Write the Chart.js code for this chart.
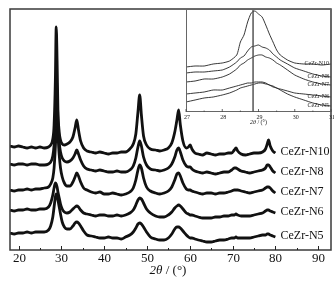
<!DOCTYPE html>
<html lang="en">
<head>
<meta charset="UTF-8">
<title>XRD CeZr-N</title>
<script src="https://cdn.jsdelivr.net/npm/chart.js"></script>
<style>
    body { margin: 0; background: #fff; }
    #wrap { position: relative; width: 334px; height: 282px; }
    #mainChart { position: absolute; left: 0; top: 0; }
    #insetChart { position: absolute; left: 178px; top: 9px; }
</style>
</head>
<body>
<div id="wrap">
    <canvas id="mainChart" width="334" height="282"></canvas>
    <canvas id="insetChart" width="156" height="120"></canvas>
</div>
<script>
// main pattern, 2theta in degrees, intensities stacked (arbitrary units)
const twoTheta = [18, 19, 20, 21, 22, 23, 24, 25, 26, 27, 27.5, 28, 28.3, 28.6, 28.8, 29.0, 29.2, 29.5, 29.8, 30.2,
    30.7, 31.3, 32, 32.7, 33.2, 33.6, 34.0, 34.5, 35.2, 36, 37, 38, 39, 40, 41, 42, 43, 44, 45, 46,
    46.8, 47.4, 47.9, 48.3, 48.7, 49.2, 49.9, 50.8, 52, 53, 54, 55, 55.8, 56.5, 57.0, 57.4, 57.8, 58.4, 59.2, 59.7,
    60.1, 60.5, 61.2, 62, 63, 64, 65, 66, 67, 68, 69, 69.8, 70.4, 70.8, 71.2, 72, 73, 74, 75, 76,
    77, 77.7, 78.1, 78.4, 78.8, 79.4, 80];

const n10 = [104, 103, 104, 103, 102, 103, 102, 103, 102, 103, 105, 111, 125, 170, 223, 190, 140, 118, 110, 106,
    105, 106, 108, 113, 122, 130, 120, 109, 102, 99, 98, 97, 98, 97, 96, 97, 97, 98, 98, 101,
    106, 116, 138, 155, 135, 114, 105, 101, 100, 99, 100, 102, 107, 118, 130, 140, 125, 109, 102, 103,
    105, 101, 97, 96, 95, 97, 96, 95, 96, 96, 97, 97, 100, 102, 99, 96, 95, 96, 97, 97,
    98, 101, 106, 110, 104, 99, 97];
const n8 = [86, 85, 86, 86, 85, 86, 86, 85, 85, 86, 88, 94, 105, 130, 150, 153, 130, 108, 98, 92,
    89, 88, 89, 92, 96, 100, 96, 90, 84, 81, 80, 79, 80, 79, 78, 78, 79, 78, 78, 80,
    84, 92, 103, 109, 104, 93, 85, 81, 80, 79, 80, 82, 86, 93, 100, 102, 98, 90, 84, 83,
    83, 81, 79, 78, 77, 78, 77, 76, 77, 78, 78, 80, 82, 82, 81, 79, 78, 77, 78, 79,
    80, 82, 85, 85, 83, 79, 77];
const n7 = [60, 59, 60, 60, 61, 60, 61, 61, 62, 63, 66, 72, 82, 103, 120, 127, 115, 95, 82, 73,
    67, 64, 64, 68, 73, 77, 74, 68, 62, 60, 58, 57, 58, 56, 56, 57, 56, 55, 56, 58,
    62, 70, 80, 85, 82, 72, 63, 59, 57, 56, 57, 59, 63, 70, 76, 77, 74, 67, 61, 60,
    60, 59, 58, 57, 56, 57, 57, 56, 57, 57, 58, 59, 60, 60, 60, 59, 58, 57, 58, 59,
    60, 62, 63, 63, 62, 59, 57];
const n6 = [40, 39, 40, 40, 41, 40, 40, 41, 41, 43, 47, 55, 62, 67, 66, 63, 58, 52, 46, 41,
    38, 37, 38, 41, 43, 44, 43, 40, 37, 36, 35, 34, 35, 35, 34, 34, 35, 34, 35, 37,
    40, 45, 50, 52, 51, 47, 41, 37, 34, 33, 33, 35, 38, 42, 44, 45, 44, 41, 37, 36,
    35, 35, 34, 33, 32, 32, 32, 33, 33, 34, 34, 35, 35, 36, 35, 34, 34, 34, 35, 36,
    37, 39, 40, 40, 39, 38, 37];
const n5 = [17, 16, 17, 17, 18, 17, 18, 18, 18, 20, 24, 33, 43, 53, 56, 55, 50, 43, 36, 28,
    23, 21, 21, 24, 27, 28, 27, 24, 19, 15, 14, 13, 12, 12, 13, 12, 12, 11, 13, 15,
    18, 22, 26, 27, 26, 23, 18, 13, 11, 10, 10, 12, 16, 21, 23, 23, 22, 19, 15, 13,
    12, 12, 11, 10, 9, 8, 8, 9, 10, 10, 11, 12, 12, 13, 12, 12, 12, 12, 13, 14,
    15, 15, 16, 16, 15, 14, 13];

const seriesNames = ['CeZr-N10', 'CeZr-N8', 'CeZr-N7', 'CeZr-N6', 'CeZr-N5'];
const xTicks = [20, 30, 40, 50, 60, 70, 80, 90];

// inset: zoom on the (111) reflection
const insetTheta = [27, 27.25, 27.5, 27.75, 28, 28.2, 28.4, 28.5, 28.6, 28.7, 28.8, 28.9, 29.0, 29.1, 29.2,
    29.3, 29.4, 29.5, 29.6, 29.8, 30, 30.25, 30.5, 30.75, 31];
const insetN10 = [45, 46, 46, 48, 49, 51, 57, 70, 77, 90, 99, 101, 98, 95, 87, 78, 70, 62, 57, 52, 49, 48, 48, 47, 48];
const insetN8 = [39, 40, 40, 41, 42, 45, 50, 54, 56, 61, 65, 66, 67, 65, 64, 62, 58, 55, 52, 48, 44, 41, 38, 36, 35];
const insetN7 = [30, 31, 33, 33, 35, 38, 43, 47, 49, 52, 54, 56, 57, 57, 55, 54, 52, 49, 47, 42, 37, 33, 30, 28, 27];
const insetN6 = [18, 19, 20, 22, 22, 24, 26, 27, 28, 29, 29, 30, 30, 30, 29, 27, 26, 24, 23, 21, 19, 18, 17, 16, 15];
const insetN5 = [10, 12, 14, 15, 17, 19, 22, 24, 25, 26, 27, 28, 29, 29, 28, 27, 25, 24, 22, 18, 15, 12, 9, 7, 6];
const insetTicks = [27, 28, 29, 30, 31];
const refLine = 28.85;

function toPoints(xs, ys) {
    return xs.map((x, i) => ({ x: x, y: ys[i] }));
}

function drawTitle(ctx, cx, cy, size) {
    ctx.save();
    ctx.textBaseline = 'middle';
    ctx.fillStyle = '#111';
    const a = '2\u03b8';
    const b = ' / (\u00b0)';
    ctx.font = 'italic ' + size + 'px "Liberation Serif"';
    const wa = ctx.measureText(a).width;
    ctx.font = size + 'px "Liberation Serif"';
    const wb = ctx.measureText(b).width;
    const x0 = cx - (wa + wb) / 2;
    ctx.textAlign = 'left';
    ctx.font = 'italic ' + size + 'px "Liberation Serif"';
    ctx.fillText(a, x0, cy);
    ctx.font = size + 'px "Liberation Serif"';
    ctx.fillText(b, x0 + wa, cy);
    ctx.restore();
}

const mainDecor = {
    id: 'mainDecor',
    afterDraw(chart) {
        const ctx = chart.ctx;
        const area = chart.chartArea;
        const xs = chart.scales.x;
        const ys = chart.scales.y;
        ctx.save();
        ctx.strokeStyle = '#3a3a3a';
        ctx.lineWidth = 1.5;
        ctx.strokeRect(area.left, area.top, area.right - area.left, area.bottom - area.top);

        ctx.lineWidth = 1;
        ctx.strokeStyle = '#222';
        ctx.fillStyle = '#111';
        ctx.font = '13px "Liberation Serif"';
        ctx.textAlign = 'center';
        ctx.textBaseline = 'middle';
        xTicks.forEach((t, i) => {
            const px = Math.round(xs.getPixelForValue(t)) + 0.5;
            ctx.beginPath();
            ctx.moveTo(px, area.bottom);
            ctx.lineTo(px, area.bottom - 4);
            ctx.stroke();
            ctx.fillText(String(t), px, area.bottom + 9);
            if (i < xTicks.length - 1) {
                const pm = Math.round(xs.getPixelForValue((t + xTicks[i + 1]) / 2)) + 0.5;
                ctx.beginPath();
                ctx.moveTo(pm, area.bottom);
                ctx.lineTo(pm, area.bottom - 2);
                ctx.stroke();
            }
        });
        drawTitle(ctx, 168, 271, 13);

        // series labels at the right end of each pattern
        ctx.font = '12px "Liberation Serif"';
        ctx.textAlign = 'left';
        chart.data.datasets.forEach(ds => {
            const last = ds.data[ds.data.length - 1];
            ctx.fillText(ds.label, xs.getPixelForValue(81.2), ys.getPixelForValue(last.y + 1));
        });
        ctx.restore();
    }
};

const insetDecor = {
    id: 'insetDecor',
    afterDraw(chart) {
        const ctx = chart.ctx;
        const area = chart.chartArea;
        const xs = chart.scales.x;
        const ys = chart.scales.y;
        ctx.save();
        ctx.strokeStyle = '#666';
        ctx.lineWidth = 1;
        ctx.strokeRect(area.left + 0.5, area.top - 0.5, area.right - area.left - 0.5, area.bottom - area.top);

        // reference position of the (111) peak
        const rx = xs.getPixelForValue(refLine);
        ctx.strokeStyle = '#555';
        ctx.lineWidth = 1.5;
        ctx.beginPath();
        ctx.moveTo(rx, area.top);
        ctx.lineTo(rx, area.bottom);
        ctx.stroke();

        ctx.lineWidth = 0.8;
        ctx.strokeStyle = '#444';
        ctx.fillStyle = '#222';
        ctx.font = '6px "Liberation Serif"';
        ctx.textAlign = 'center';
        ctx.textBaseline = 'middle';
        insetTicks.forEach((t, i) => {
            const px = xs.getPixelForValue(t);
            ctx.beginPath();
            ctx.moveTo(px, area.bottom);
            ctx.lineTo(px, area.bottom - 3);
            ctx.stroke();
            ctx.fillText(String(t), px + 1, area.bottom + 5);
            if (i < insetTicks.length - 1) {
                const pm = xs.getPixelForValue((t + insetTicks[i + 1]) / 2);
                ctx.beginPath();
                ctx.moveTo(pm, area.bottom);
                ctx.lineTo(pm, area.bottom - 1.5);
                ctx.stroke();
            }
        });
        drawTitle(ctx, xs.getPixelForValue(29), area.bottom + 10.5, 6);

        ctx.font = '6px "Liberation Serif"';
        ctx.textAlign = 'right';
        chart.data.datasets.forEach(ds => {
            const last = ds.data[ds.data.length - 1];
            ctx.fillText(ds.label, area.right - 2, ys.getPixelForValue(last.y + 1));
        });
        ctx.restore();
    }
};

const mainSeries = [n10, n8, n7, n6, n5];
const insetSeries = [insetN10, insetN8, insetN7, insetN6, insetN5];

new Chart(document.getElementById('mainChart').getContext('2d'), {
    type: 'line',
    data: {
        datasets: mainSeries.map((s, i) => ({
            label: seriesNames[i],
            data: toPoints(twoTheta, s),
            borderColor: '#111',
            borderWidth: 2.8,
            pointRadius: 0,
            fill: false,
            cubicInterpolationMode: 'monotone'
        }))
    },
    options: {
        responsive: false,
        animation: false,
        devicePixelRatio: 1,
        layout: { padding: { left: 10, top: 9, right: 3, bottom: 32 } },
        plugins: { legend: { display: false }, tooltip: { enabled: false } },
        scales: {
            x: { type: 'linear', min: 18, max: 93, display: false },
            y: { min: 0, max: 241, display: false }
        }
    },
    plugins: [mainDecor]
});

new Chart(document.getElementById('insetChart').getContext('2d'), {
    type: 'line',
    data: {
        datasets: insetSeries.map((s, i) => ({
            label: seriesNames[i],
            data: toPoints(insetTheta, s),
            borderColor: '#222',
            borderWidth: 0.9,
            pointRadius: 0,
            fill: false,
            tension: 0.2
        }))
    },
    options: {
        responsive: false,
        animation: false,
        devicePixelRatio: 1,
        layout: { padding: { left: 8, top: 1, right: 3, bottom: 17 } },
        plugins: { legend: { display: false }, tooltip: { enabled: false } },
        scales: {
            x: { type: 'linear', min: 27, max: 31, display: false },
            y: { min: 0, max: 102, display: false }
        }
    },
    plugins: [insetDecor]
});
</script>
</body>
</html>
